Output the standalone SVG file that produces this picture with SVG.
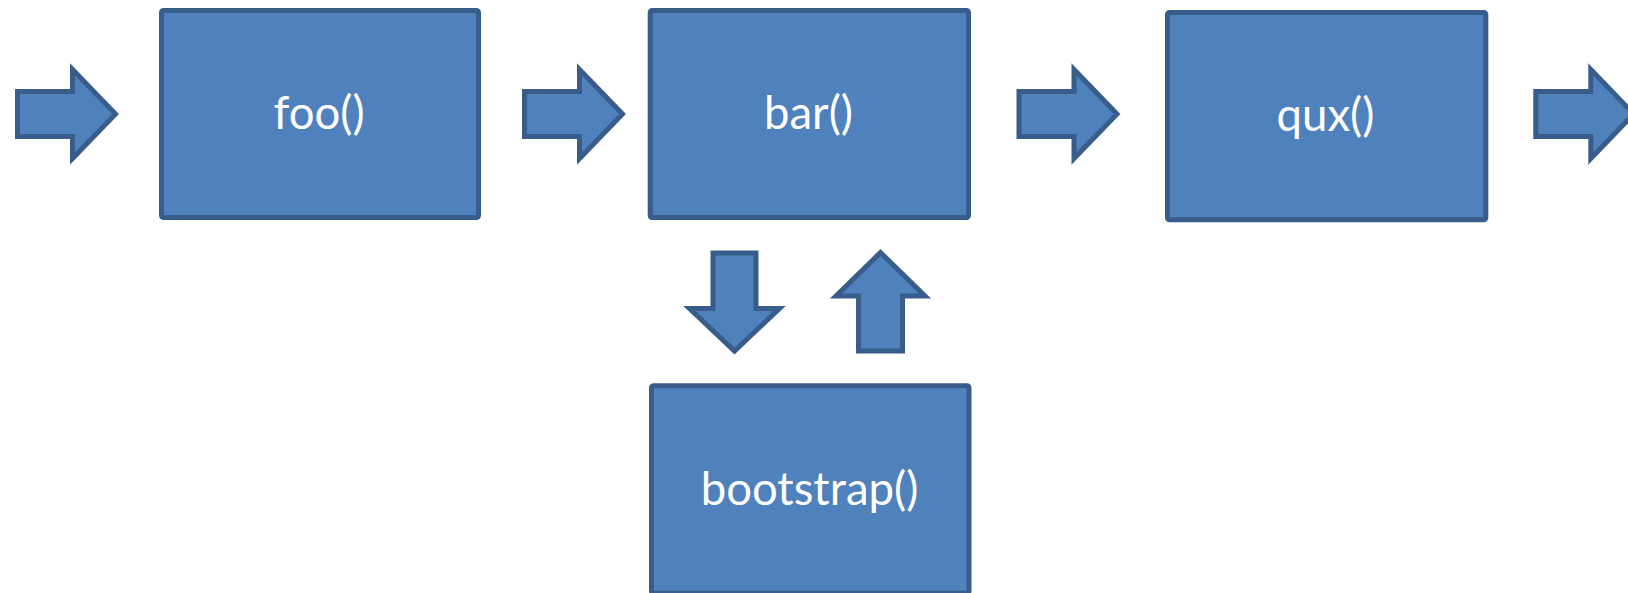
<svg xmlns="http://www.w3.org/2000/svg" width="1628" height="593" viewBox="0 0 1628 593">
  <style>
    .box { fill: #4F81BD; stroke: #385D8A; stroke-width: 5; }
    .arrow { fill: #4F81BD; stroke: #385D8A; stroke-width: 5; stroke-linejoin: miter; stroke-miterlimit: 10; }
    .label { fill: #FFFFFF; font-family: Lato, "Open Sans", "Liberation Sans", sans-serif; font-size: 45.5px; text-anchor: middle; }
  </style>
  <rect width="1628" height="593" fill="#FFFFFF"/>
  <g id="connectors">
    <path class="arrow" d="M 17.5,91.5 H 72.5 V 69.5 L 115.5,114 L 72.5,158.5 V 136.5 H 17.5 Z"/>
    <path class="arrow" d="M 524.5,91.5 H 579.5 V 69.5 L 622.5,114 L 579.5,158.5 V 136.5 H 524.5 Z"/>
    <path class="arrow" d="M 1019,91.5 H 1074 V 69.5 L 1117,114 L 1074,158.5 V 136.5 H 1019 Z"/>
    <path class="arrow" d="M 1535.8,91.5 H 1590.8 V 69.5 L 1633.8,114 L 1590.8,158.5 V 136.5 H 1535.8 Z"/>
    <path class="arrow" d="M 713,253 H 756 V 308.5 H 779.5 L 734.5,351 L 689.5,308.5 H 713 Z"/>
    <path class="arrow" d="M 858.5,351 V 296 H 836 L 880.5,252.5 L 925,296 H 902.5 V 351 Z"/>
  </g>
  <g id="foo">
    <rect class="box" x="161.5" y="10.5" width="317" height="207" rx="2"/>
    <text class="label" x="319" y="129">foo()</text>
  </g>
  <g id="bar">
    <rect class="box" x="650.2" y="10.5" width="318.3" height="207" rx="2"/>
    <text class="label" x="808.5" y="129">bar()</text>
  </g>
  <g id="qux">
    <rect class="box" x="1167.5" y="12.5" width="318.3" height="207.3" rx="2"/>
    <text class="label" x="1325.5" y="131">qux()</text>
  </g>
  <g id="bootstrap">
    <rect class="box" x="651.5" y="385.8" width="317.5" height="207.5" rx="2"/>
    <text class="label" x="809.5" y="505">bootstrap()</text>
  </g>
</svg>
